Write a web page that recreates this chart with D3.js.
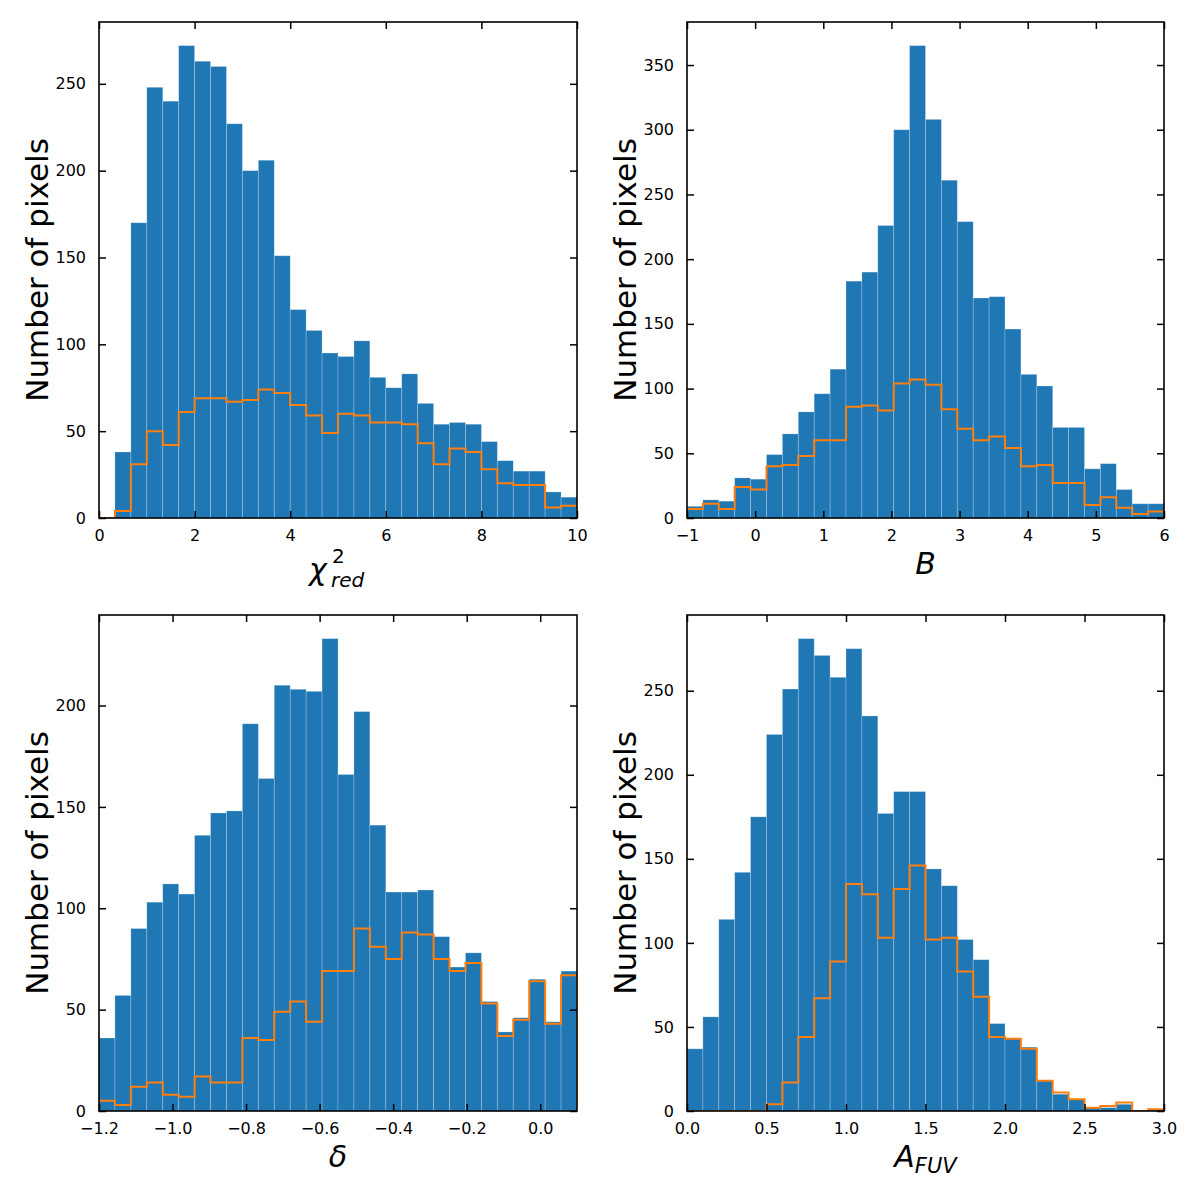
<!DOCTYPE html>
<html>
<head>
<meta charset="utf-8">
<script src="https://cdn.jsdelivr.net/npm/d3@7"></script>
<style>
  body { margin: 0; background: #fff; }
  text { font-family: "DejaVu Sans", sans-serif; fill: #000; }
</style>
</head>
<body>
<div id="chart"></div>
<script>
// bin ranges: [start, end], 30 equal bins each
const chiRange = [0, 10];
const chiAll = [0, 38, 170, 248, 240, 272, 263, 260, 227, 200, 206, 151, 120, 108, 95, 93, 102, 81, 75, 83, 66, 54, 55, 54, 44, 33, 27, 27, 15, 12];
const chiSel = [0, 4, 31, 50, 42, 61, 69, 69, 67, 68, 74, 72, 65, 59, 49, 60, 59, 55, 55, 54, 43, 31, 40, 38, 28, 20, 19, 19, 6, 7];
const chiTicksX = [0, 2, 4, 6, 8, 10];
const chiTicksY = [0, 50, 100, 150, 200, 250];

const bRange = [-1, 6];
const bAll = [9, 14, 13, 31, 30, 49, 65, 82, 96, 115, 183, 190, 226, 300, 365, 308, 261, 229, 170, 171, 146, 111, 102, 70, 70, 38, 42, 22, 11, 11];
const bSel = [7, 11, 7, 24, 22, 40, 41, 48, 60, 60, 86, 87, 83, 104, 107, 103, 84, 69, 60, 63, 54, 40, 41, 27, 27, 10, 16, 8, 3, 5];
const bTicksX = [-1, 0, 1, 2, 3, 4, 5, 6];
const bTicksY = [0, 50, 100, 150, 200, 250, 300, 350];

const deltaRange = [-1.2, 0.1];
const deltaAll = [36, 57, 90, 103, 112, 107, 136, 147, 148, 191, 164, 210, 208, 207, 233, 166, 197, 141, 108, 108, 109, 86, 71, 78, 54, 39, 46, 65, 44, 69];
const deltaSel = [5, 3, 12, 14, 8, 7, 17, 14, 14, 36, 35, 49, 54, 44, 69, 69, 90, 81, 75, 88, 87, 75, 69, 73, 53, 37, 45, 64, 43, 67];
const deltaTicksX = [-1.2, -1.0, -0.8, -0.6, -0.4, -0.2, 0.0];
const deltaTicksY = [0, 50, 100, 150, 200];

const afuvRange = [0, 3];
const afuvAll = [37, 56, 114, 142, 175, 224, 251, 281, 271, 258, 275, 235, 177, 190, 190, 144, 134, 102, 90, 52, 43, 38, 18, 10, 7, 2, 2, 4, 0, 1];
const afuvSel = [0, 0, 0, 0, 0, 4, 17, 44, 67, 89, 135, 129, 103, 132, 146, 102, 103, 83, 68, 44, 43, 37, 18, 11, 7, 2, 3, 5, 0, 1];
const afuvTicksX = [0.0, 0.5, 1.0, 1.5, 2.0, 2.5, 3.0];
const afuvTicksY = [0, 50, 100, 150, 200, 250];

const W = 1200, H = 1200;
const blue = "#1f77b4", orange = "#ff7f0e";
const tickLen = 7;

const svg = d3.select("#chart").append("svg")
  .attr("width", W)
  .attr("height", H);

const panels = [
  {left: 99, top: 22, w: 478, h: 496, range: chiRange, all: chiAll, sel: chiSel, tx: chiTicksX, ty: chiTicksY, fmt: d3.format("d"), label: "chi"},
  {left: 687, top: 22, w: 477, h: 496, range: bRange, all: bAll, sel: bSel, tx: bTicksX, ty: bTicksY, fmt: d3.format("d"), label: "B"},
  {left: 99, top: 615, w: 478, h: 496, range: deltaRange, all: deltaAll, sel: deltaSel, tx: deltaTicksX, ty: deltaTicksY, fmt: d3.format(".1f"), label: "delta"},
  {left: 687, top: 615, w: 477, h: 496, range: afuvRange, all: afuvAll, sel: afuvSel, tx: afuvTicksX, ty: afuvTicksY, fmt: d3.format(".1f"), label: "afuv"}
];

function drawPanel(p, idx) {
  const n = p.all.length;
  const step = (p.range[1] - p.range[0]) / n;
  const edges = d3.range(n + 1).map(i => p.range[0] + i * step);

  const x = d3.scaleLinear().domain(p.range).range([0, p.w]);
  const y = d3.scaleLinear().domain([0, d3.max(p.all) * 1.05]).range([p.h, 0]);

  const g = svg.append("g").attr("transform", `translate(${p.left},${p.top})`);

  const clipId = "clip" + idx;
  g.append("clipPath").attr("id", clipId)
    .append("rect").attr("width", p.w).attr("height", p.h);

  const plot = g.append("g").attr("clip-path", `url(#${clipId})`);

  plot.selectAll("rect.bar")
    .data(p.all)
    .join("rect")
    .attr("class", "bar")
    .attr("x", (d, i) => x(edges[i]))
    .attr("y", d => y(d))
    .attr("width", (d, i) => x(edges[i + 1]) - x(edges[i]))
    .attr("height", d => p.h - y(d))
    .attr("fill", blue)
    .attr("stroke", "rgba(255,255,255,0.28)")
    .attr("stroke-width", 0.8);

  // step outline of the selected subset
  const pts = [[edges[0], 0]];
  p.sel.forEach((v, i) => {
    pts.push([edges[i], v]);
    pts.push([edges[i + 1], v]);
  });
  pts.push([edges[n], 0]);
  plot.append("path")
    .attr("d", d3.line().x(d => x(d[0])).y(d => y(d[1]))(pts))
    .attr("fill", "none")
    .attr("stroke", orange)
    .attr("stroke-width", 2);

  // axes: inward ticks on all four sides
  const axB = g.append("g").attr("transform", `translate(0,${p.h})`)
    .call(d3.axisBottom(x).tickValues(p.tx).tickFormat(d => p.fmt(d).replace("-", "\u2212"))
      .tickSizeInner(-tickLen).tickSizeOuter(0).tickPadding(12));
  const axT = g.append("g")
    .call(d3.axisTop(x).tickValues(p.tx).tickFormat("").tickSizeInner(-tickLen).tickSizeOuter(0));
  const axL = g.append("g")
    .call(d3.axisLeft(y).tickValues(p.ty).tickFormat(d3.format("d"))
      .tickSizeInner(-tickLen).tickSizeOuter(0).tickPadding(13));
  const axR = g.append("g").attr("transform", `translate(${p.w},0)`)
    .call(d3.axisRight(y).tickValues(p.ty).tickFormat("").tickSizeInner(-tickLen).tickSizeOuter(0));

  [axB, axT, axL, axR].forEach(a => {
    a.select(".domain").remove();
    a.selectAll("line").attr("stroke", "#000").attr("stroke-width", 1.5);
    a.selectAll("text").attr("font-size", 16).attr("font-family", "DejaVu Sans").attr("fill", "#000");
  });

  g.append("rect")
    .attr("width", p.w).attr("height", p.h)
    .attr("fill", "none").attr("stroke", "#000").attr("stroke-width", 1.6);

  // y label
  g.append("text")
    .attr("transform", `translate(-51,${p.h / 2}) rotate(-90)`)
    .attr("text-anchor", "middle")
    .attr("font-size", 31)
    .text("Number of pixels");

  // x label
  const cx = p.w / 2;
  if (p.label === "chi") {
    g.append("text").attr("font-size", 30).attr("font-style", "italic")
      .attr("y", p.h + 62).attr("x", cx - 29).text("\u03c7");
    g.append("text").attr("font-size", 20).attr("font-style", "normal")
      .attr("x", cx - 6).attr("y", p.h + 45).text("2");
    g.append("text").attr("font-size", 20).attr("font-style", "italic")
      .attr("x", cx - 7).attr("y", p.h + 69).text("red");
  } else if (p.label === "B") {
    g.append("text").attr("font-size", 30).attr("font-style", "italic")
      .attr("text-anchor", "middle").attr("x", cx).attr("y", p.h + 56).text("B");
  } else if (p.label === "delta") {
    g.append("text").attr("font-size", 30).attr("font-style", "italic")
      .attr("text-anchor", "middle").attr("x", cx).attr("y", p.h + 56).text("\u03b4");
  } else {
    const t = g.append("text").attr("text-anchor", "middle").attr("x", cx).attr("y", p.h + 56);
    t.append("tspan").attr("font-size", 30).attr("font-style", "italic").text("A");
    t.append("tspan").attr("font-size", 21).attr("font-style", "italic").attr("dy", 6).text("FUV");
  }
}

panels.forEach(drawPanel);
</script>
</body>
</html>
